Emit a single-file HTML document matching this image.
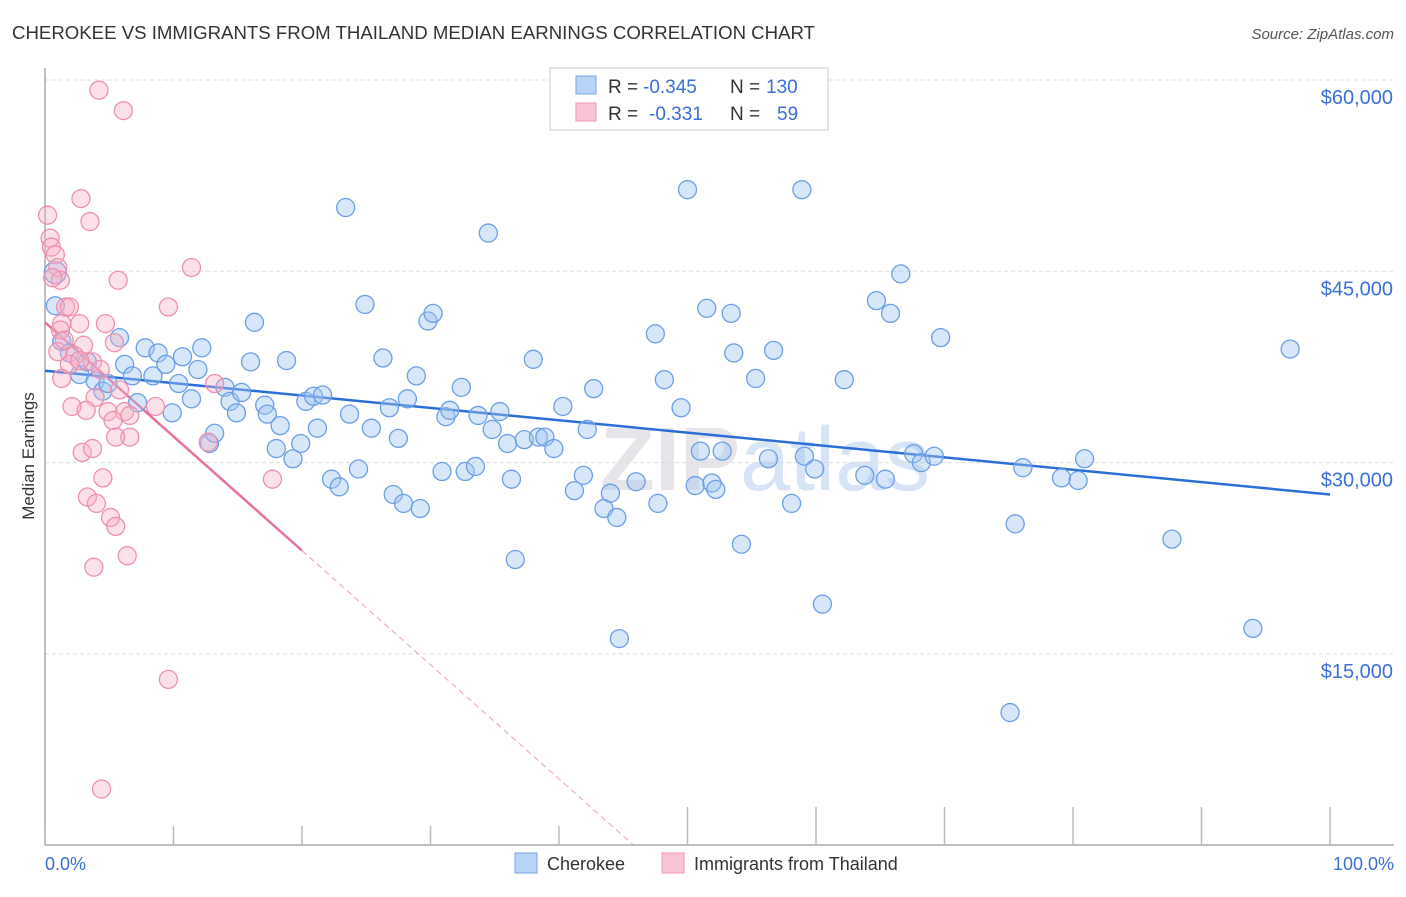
<!DOCTYPE html>
<html><head><meta charset="utf-8">
<style>
body{margin:0;background:#fff;font-family:"Liberation Sans",sans-serif;}
svg text{font-family:"Liberation Sans",sans-serif;}
</style></head>
<body>
<svg id="chart" width="1406" height="892" viewBox="0 0 1406 892">
<text x="12" y="39" font-size="18" fill="#333" textLength="803" lengthAdjust="spacingAndGlyphs">CHEROKEE VS IMMIGRANTS FROM THAILAND MEDIAN EARNINGS CORRELATION CHART</text>
<text x="1394" y="39" font-size="15" fill="#555" text-anchor="end" font-style="italic">Source: ZipAtlas.com</text>
<text x="600" y="490" font-size="90" fill="#e6e6ea" font-weight="bold">ZIP<tspan fill="#d6e4f5" font-weight="normal">atlas</tspan></text>
<g id="grid"></g><g id="axes"></g><g id="trend"></g><g id="pts"></g>
<text transform="translate(34,456) rotate(-90)" font-size="17" fill="#333" text-anchor="middle">Median Earnings</text>
<text x="45" y="870" font-size="18" fill="#3a6fd8">0.0%</text>
<text x="1394" y="870" font-size="18" fill="#3a6fd8" text-anchor="end">100.0%</text>
<g>
<rect x="550" y="68" width="278" height="62" fill="#fff" stroke="#ccc"/>
<rect x="576" y="76" width="20" height="18" fill="#b7d3f5" stroke="#7aa6e6"/>
<rect x="576" y="103" width="20" height="18" fill="#f8c3d2" stroke="#ef97b1"/>
<text x="608" y="93" font-size="19" fill="#333">R =</text>
<text x="643" y="93" font-size="19" fill="#3a6fd8">-0.345</text>
<text x="730" y="93" font-size="19" fill="#333">N =</text>
<text x="766" y="93" font-size="19" fill="#3a6fd8">130</text>
<text x="608" y="120" font-size="19" fill="#333">R =</text>
<text x="649" y="120" font-size="19" fill="#3a6fd8">-0.331</text>
<text x="730" y="120" font-size="19" fill="#333">N =</text>
<text x="777" y="120" font-size="19" fill="#3a6fd8">59</text>
</g>
<g>
<rect x="515" y="853" width="22" height="20" fill="#b7d3f5" stroke="#7aa6e6"/>
<text x="547" y="870" font-size="18" fill="#333">Cherokee</text>
<rect x="662" y="853" width="22" height="20" fill="#f8c3d2" stroke="#ef97b1"/>
<text x="694" y="870" font-size="18" fill="#333">Immigrants from Thailand</text>
</g>
</svg>
<script>
const yTicks=[15000,30000,45000,60000];
const yTickLabels=["$15,000","$30,000","$45,000","$60,000"];
const xTicks=[0,10,20,30,40,50,60,70,80,90,100];
const cherokeeX=[0.8,0.8,1.3,1.9,2.7,3.9,4.5,4.9,3.3,5.8,6.2,6.8,7.2,7.8,8.4,8.8,9.4,9.9,10.4,10.7,11.4,11.9,12.2,12.8,13.2,14.0,14.4,14.9,15.3,16.0,16.3,17.1,17.3,18.0,18.3,18.8,19.3,19.9,20.3,20.9,21.2,21.6,22.3,22.9,23.4,23.7,24.4,24.9,25.4,26.3,26.8,27.1,27.5,27.9,28.2,28.9,29.2,29.8,30.2,30.9,31.2,31.5,32.4,32.7,33.5,33.7,34.5,34.8,35.4,36.0,36.3,36.6,37.3,38.0,38.4,38.9,39.6,40.3,41.2,41.9,42.2,42.7,43.5,44.0,44.5,44.7,46.0,47.5,47.7,48.2,49.5,50.0,50.6,51.0,51.5,51.9,52.2,52.7,53.4,53.6,54.2,55.3,56.3,56.7,58.1,58.9,59.1,59.9,60.5,62.2,63.8,64.7,65.4,65.8,66.6,67.6,68.2,69.2,69.7,75.1,75.5,76.1,79.1,80.4,80.9,87.7,94.0,96.9];
const cherokeeY=[44900,42300,39500,38600,36900,36400,35600,36200,37900,39800,37700,36800,34700,39000,36800,38600,37700,33900,36200,38300,35000,37300,39000,31500,32300,35900,34800,33900,35500,37900,41000,34500,33800,31100,32900,38000,30300,31500,34800,35200,32700,35300,28700,28100,50000,33800,29500,42400,32700,38200,34300,27500,31900,26800,35000,36800,26400,41100,41700,29300,33600,34100,35900,29300,29700,33700,48000,32600,34000,31500,28700,22400,31800,38100,32000,32000,31100,34400,27800,29000,32600,35800,26400,27600,25700,16200,28500,40100,26800,36500,34300,51400,28200,30900,42100,28400,27900,30900,41700,38600,23600,36600,30300,38800,26800,51400,30500,29500,18900,36500,29000,42700,28700,41700,44800,30700,30000,30500,39800,10400,25200,29600,28800,28600,30300,24000,17000,38900];
const thaiX=[4.2,6.1,2.8,3.5,0.2,0.4,0.5,0.8,1.0,1.2,0.6,5.7,11.4,9.6,1.6,1.9,1.3,2.7,4.7,1.2,3.0,2.3,1.9,3.7,5.4,1.0,1.3,2.7,3.9,2.1,3.2,4.9,5.8,6.2,6.6,5.3,6.6,5.5,8.6,13.2,12.7,2.9,3.7,4.5,17.7,3.3,4.0,5.1,5.5,6.4,3.8,9.6,4.4,1.5,4.3];
const thaiY=[59200,57600,50700,48900,49400,47600,46900,46300,45300,44300,44500,44300,45300,42200,42200,42200,40900,40900,40900,40400,39200,38400,37700,37900,39400,38700,36600,38000,35100,34400,34100,34000,35700,34000,33700,33300,32000,32000,34400,36200,31600,30800,31100,28800,28700,27300,26800,25700,25000,22700,21800,13000,4400,39600,37300];
const cherokeeTrend=[37200,27500];
const thaiTrend=[41000,-895];
const NS="http://www.w3.org/2000/svg";
const X=v=>45+v*12.85;
const Y=v=>80+(60000-v)*191.3/15000;
function mk(tag,attrs,parent){const e=document.createElementNS(NS,tag);for(const k in attrs)e.setAttribute(k,attrs[k]);document.getElementById(parent).appendChild(e);return e;}
yTicks.forEach((t,i)=>{
  const l=mk('line',{x1:45,x2:1394,y1:Y(t),y2:Y(t),stroke:'#ddd','stroke-dasharray':'4,3'},'grid');
  
  
  const tx=mk('text',{x:1393,y:Y(t)+24,'font-size':20,fill:'#3a6fd8','text-anchor':'end'},'grid');
  tx.textContent=yTickLabels[i];
  
  
});
const ax=mk('line',{x1:45,x2:45,y1:68,y2:845,stroke:'#aaa','stroke-width':1.5},'axes');


const bx=mk('line',{x1:45,x2:1394,y1:845,y2:845,stroke:'#aaa','stroke-width':1.5},'axes');


xTicks.forEach(t=>{
  const l=mk('line',{x1:X(t),x2:X(t),y1:t>=50?807:826,y2:845,stroke:'#bbb','stroke-width':1.5},'axes');
  
  
});
const bl=mk('line',{x1:X(0),y1:Y(cherokeeTrend[0]),x2:X(100),y2:Y(cherokeeTrend[1]),stroke:'#2b6fd6','stroke-width':2.5},'trend');


const pEnd=20, zeroX=-thaiTrend[0]/thaiTrend[1];
const ps=mk('line',{x1:X(0),y1:Y(thaiTrend[0]),x2:X(pEnd),y2:Y(thaiTrend[0]+thaiTrend[1]*pEnd),stroke:'#e8739a','stroke-width':2.5},'trend');


const pd=mk('line',{x1:X(pEnd),y1:Y(thaiTrend[0]+thaiTrend[1]*pEnd),x2:X(zeroX),y2:Y(0),stroke:'#eba0b8','stroke-width':1,'stroke-dasharray':'6,4'},'trend');


cherokeeX.forEach((x,i)=>{
  const c=mk('circle',{cx:X(x),cy:Y(cherokeeY[i]),r:i===0?11:9,fill:'rgba(160,196,240,0.42)',stroke:'#6c9fe6','stroke-width':1.3},'pts');
  
  
});
thaiX.forEach((x,i)=>{
  const c=mk('circle',{cx:X(x),cy:Y(thaiY[i]),r:9,fill:'rgba(246,176,198,0.38)',stroke:'#ee90ad','stroke-width':1.3},'pts');
  
  
});
</script>
</body></html>
